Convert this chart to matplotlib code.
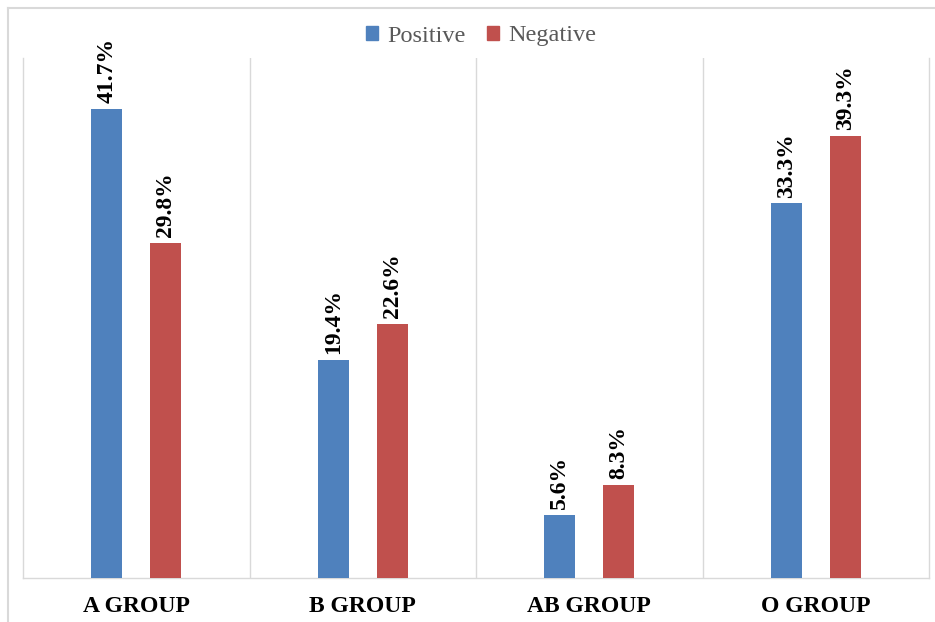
import matplotlib
matplotlib.use("Agg")
import matplotlib.pyplot as plt
import numpy as np
from matplotlib.patches import Rectangle
from matplotlib.lines import Line2D

# Blood group distribution
categories = ["A GROUP", "B GROUP", "AB GROUP", "O GROUP"]
positive = [41.7, 19.4, 5.6, 33.3]
negative = [29.8, 22.6, 8.3, 39.3]
series_names = ["Positive", "Negative"]

W, H = 935, 622
fig = plt.figure(figsize=(W / 100, H / 100), dpi=100)
fig.patch.set_facecolor("white")

# Outer chart border
fig.add_artist(Line2D([8 / W, 8 / W], [0, 1 - 8 / H], transform=fig.transFigure,
                      color="#d9d9d9", lw=1.5))
fig.add_artist(Line2D([8 / W, 1], [1 - 8 / H, 1 - 8 / H], transform=fig.transFigure,
                      color="#d9d9d9", lw=1.5))

left, right, top, bottom = 23, 929, 58, 578
ax = fig.add_axes([left / W, 1 - bottom / H, (right - left) / W, (bottom - top) / H])

serif = ["Liberation Serif", "DejaVu Serif"]
blue = "#4F81BD"
red = "#C0504D"

x = np.arange(len(categories))
bw = 0.136
off = 0.13
b1 = ax.bar(x - off, positive, bw, color=blue, zorder=3)
b2 = ax.bar(x + off, negative, bw, color=red, zorder=3)

for bars, vals in ((b1, positive), (b2, negative)):
    for rect, v in zip(bars, vals):
        ax.annotate(f"{v:.1f}%", (rect.get_x() + rect.get_width() / 2, v),
                    xytext=(0, 4), textcoords="offset points",
                    rotation=90, ha="center", va="bottom",
                    fontsize=17, fontweight="bold", family=serif, color="black")

ax.set_xlim(-0.5, len(categories) - 0.5)
ax.set_ylim(0, 46.2)
ax.set_yticks([])
ax.set_xticks(x)
ax.set_xticklabels(categories, fontsize=17, fontweight="bold", family=serif)
ax.tick_params(axis="x", length=0, pad=13)

# Category separators
for b in np.arange(0.5, len(categories) - 0.5, 1.0):
    ax.axvline(b, color="#d9d9d9", lw=1, zorder=1)

for s in ("left", "right", "bottom"):
    ax.spines[s].set_color("#d9d9d9")
    ax.spines[s].set_linewidth(1)
ax.spines["top"].set_visible(False)

leg = fig.legend([Rectangle((0, 0), 1, 1, color=blue), Rectangle((0, 0), 1, 1, color=red)],
                 series_names, loc="center", bbox_to_anchor=(481 / W, 1 - 36 / H),
                 ncol=2, frameon=False, handlelength=0.5, handleheight=0.5,
                 handletextpad=0.35, columnspacing=0.9,
                 prop={"family": serif, "size": 17.5})
for t in leg.get_texts():
    t.set_color("#595959")

fig.savefig("out.png", dpi=100)
